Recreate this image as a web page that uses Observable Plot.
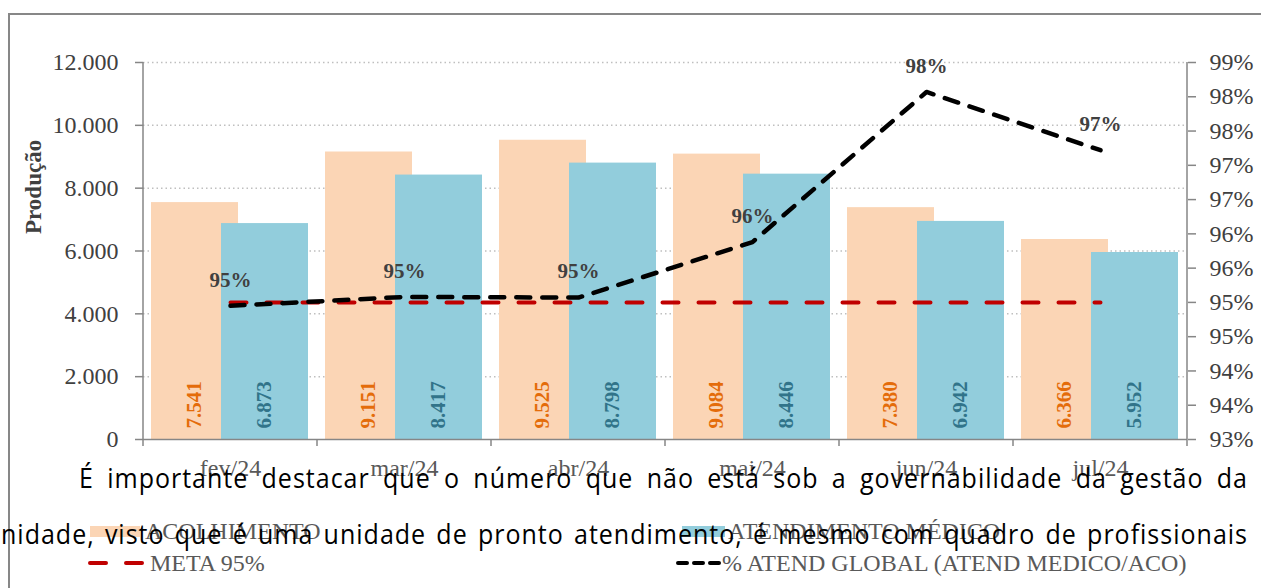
<!DOCTYPE html>
<html>
<head>
<meta charset="utf-8">
<script src="https://cdn.jsdelivr.net/npm/d3@7"></script>
<script src="https://cdn.jsdelivr.net/npm/@observablehq/plot@0.6"></script>
<style>
  html, body { margin: 0; padding: 0; background: #fff; }
  body { width: 1261px; height: 588px; overflow: hidden; position: relative; }
  #frame { position: absolute; left: 8px; top: 13px; width: 1400px; height: 700px; border: 2px solid #878787; }
  #chart { position: absolute; left: 0; top: 0; }
  .leg { position: absolute; font-family: "Liberation Serif", serif; font-size: 24px; color: #595959; line-height: 1; white-space: nowrap; }
  .sw { position: absolute; }
  .para { position: absolute; font-family: "Open Sans", "Noto Sans", sans-serif; font-size: 25px; letter-spacing: 1px; color: #000; line-height: 30px; text-align: justify; text-align-last: justify; transform: scaleY(1.12); transform-origin: 0 50%; }
</style>
</head>
<body>
<div id="frame"></div>
<div id="chart"></div>

<div class="sw" style="left:90px; top:526px; width:50px; height:11px; background:#FBD5B5"></div>
<div class="leg" style="left:145px; top:519px">ACOLHIMENTO</div>
<div class="sw" style="left:682px; top:526px; width:43px; height:11px; background:#92CDDC"></div>
<div class="leg" style="left:728px; top:519px">ATENDIMENTO MÉDICO</div>
<svg class="sw" style="left:86px; top:556px" width="64" height="14"><line x1="4" y1="7" x2="60" y2="7" stroke="#C00000" stroke-width="4" stroke-linecap="round" stroke-dasharray="16,20"/></svg>
<div class="leg" style="left:150px; top:551px">META 95%</div>
<svg class="sw" style="left:674px; top:556px" width="50" height="14"><line x1="4" y1="7" x2="46" y2="7" stroke="#000" stroke-width="4" stroke-linecap="round" stroke-dasharray="9,7"/></svg>
<div class="leg" style="left:722px; top:551px">% ATEND GLOBAL (ATEND MEDICO/ACO)</div>

<div class="para" style="left:79px; top:462px; width:1169px">É importante destacar que o número que não está sob a governabilidade da gestão da</div>
<div class="para" style="left:1px; top:518px; width:1247px">nidade, visto que é uma unidade de pronto atendimento, é mesmo com quadro de profissionais</div>

<script>
const months = ["fev/24", "mar/24", "abr/24", "mai/24", "jun/24", "jul/24"];
const acolhimento = [7541, 9151, 9525, 9084, 7380, 6366];
const atendMedico = [6873, 8417, 8798, 8446, 6942, 5952];
const atendGlobal = [94.95, 95.08, 95.07, 95.88, 98.07, 97.22];
const atendGlobalLabels = ["95%", "95%", "95%", "96%", "98%", "97%"];
const meta = [95, 95, 95, 95, 95, 95];
const leftTicks = [0, 2000, 4000, 6000, 8000, 10000, 12000];
const leftTickLabels = ["0", "2.000", "4.000", "6.000", "8.000", "10.000", "12.000"];
const rightTicks = [93, 93.5, 94, 94.5, 95, 95.5, 96, 96.5, 97, 97.5, 98, 98.5];
const rightTickLabels = ["93%", "94%", "94%", "95%", "95%", "96%", "96%", "97%", "97%", "98%", "98%", "99%"];

const pctMin = 93, pctMax = 98.5, yMax = 12000;
const toY = p => (p - pctMin) / (pctMax - pctMin) * yMax;

const rows = months.map((m, i) => ({
  month: m, acolh: acolhimento[i], atend: atendMedico[i],
  global: atendGlobal[i], label: atendGlobalLabels[i], meta: meta[i]
}));

const fmt = d3.formatLocale({decimal: ",", thousands: ".", grouping: [3], currency: ["", ""]}).format(",");
const leftMap = new Map(leftTicks.map((t, i) => [t, leftTickLabels[i]]));
const rightMap = new Map(rightTicks.map((t, i) => [toY(t), rightTickLabels[i]]));

const serif = "Liberation Serif, Times New Roman, serif";

const chart = Plot.plot({
  width: 1261, height: 588,
  marginLeft: 143, marginRight: 74, marginTop: 62, marginBottom: 149,
  style: {background: "transparent", fontFamily: serif, overflow: "visible"},
  x: {type: "band", domain: months, paddingInner: 0, paddingOuter: 0},
  y: {domain: [0, yMax]},
  marks: [
    Plot.gridY(leftTicks.slice(1), {stroke: "#BFBFBF", strokeOpacity: 1, strokeWidth: 1.5, strokeDasharray: "1.5,3"}),
    Plot.barY(rows, {x: "month", y: "acolh", fill: "#FBD5B5", insetLeft: 8, insetRight: 79}),
    Plot.barY(rows, {x: "month", y: "atend", fill: "#92CDDC", insetLeft: 78, insetRight: 9}),
    Plot.text(rows, {x: "month", y: 0, text: d => fmt(d.acolh), rotate: -90, textAnchor: "start", dx: -36, dy: -11, fill: "#E46C0A", fontWeight: "bold", fontSize: 21}),
    Plot.text(rows, {x: "month", y: 0, text: d => fmt(d.atend), rotate: -90, textAnchor: "start", dx: 34, dy: -11, fill: "#31748A", fontWeight: "bold", fontSize: 21}),
    Plot.line(rows, {x: "month", y: d => toY(d.meta), stroke: "#C00000", strokeWidth: 4, strokeDasharray: "16,20", strokeLinecap: "round"}),
    Plot.line(rows, {x: "month", y: d => toY(d.global), stroke: "#000", strokeWidth: 4.5, strokeDasharray: "14,12", strokeLinecap: "round", strokeLinejoin: "round"}),
    Plot.text(rows, {x: "month", y: d => toY(d.global), text: "label", dy: -26, fill: "#404040", fontWeight: "bold", fontSize: 21}),
    Plot.axisY({ticks: leftTicks, tickFormat: d => leftMap.get(d), tickSize: 8, tickPadding: 17, fontSize: 24, fill: "#404040", stroke: "#868686", strokeWidth: 1.5, label: null}),
    Plot.axisY({anchor: "right", ticks: rightTicks.map(toY), tickFormat: d => rightMap.get(d), tickSize: 8, tickPadding: 14, fontSize: 24, fill: "#404040", stroke: "#868686", strokeWidth: 1.5, label: null}),
    Plot.axisX({tickSize: 0, tickPadding: 19, fontSize: 24, fill: "#595959", label: null}),
    Plot.ruleY([0], {stroke: "#868686", strokeWidth: 1.5}),
    Plot.text(["Produção"], {frameAnchor: "left", dx: -110, dy: -17, rotate: -90, fontWeight: "bold", fontSize: 23, fill: "#404040"})
  ]
});

document.getElementById("chart").appendChild(chart);

// axis lines and category-boundary ticks, positioned from Plot's own scales
const xs = chart.scale("x"), ys = chart.scale("y");
const [x0, x1] = xs.range;
const [yb, yt] = ys.range;
const svg = d3.select(chart);
const g = svg.append("g").attr("stroke", "#868686").attr("stroke-width", 1.5);
g.append("line").attr("x1", x0).attr("x2", x0).attr("y1", yt).attr("y2", yb);
g.append("line").attr("x1", x1).attr("x2", x1).attr("y1", yt).attr("y2", yb);
for (let i = 0; i <= months.length; i++) {
  const x = x0 + i * xs.step;
  g.append("line").attr("x1", x).attr("x2", x).attr("y1", yb).attr("y2", yb + 7);
}
</script>
</body>
</html>
